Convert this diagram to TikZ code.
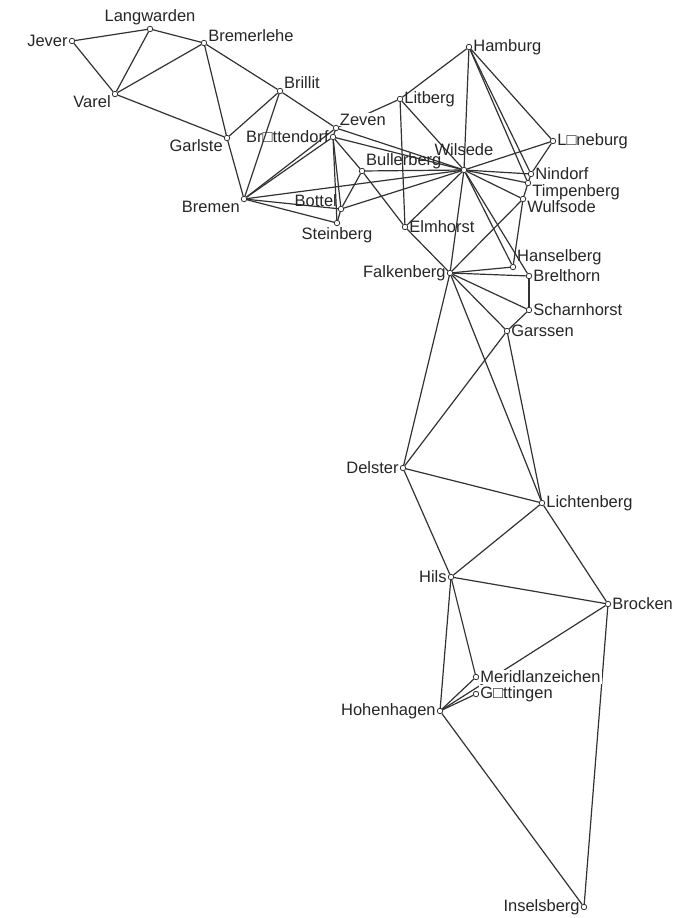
\documentclass[tikz,border=0pt]{standalone}
\usepackage{fontspec}
\setmainfont{Liberation Sans}
\usetikzlibrary{backgrounds}
\definecolor{netLine}{RGB}{50,50,50}
\tikzset{
  station/.style={circle, draw=netLine, fill=white, line width=0.8pt,
                  inner sep=0pt, minimum size=5.5pt},
  lbl/.style={font=\fontsize{16.5}{17}\selectfont, text=black!85, inner sep=1pt, label distance=0pt},
  lblmask/.style={lbl, fill=white},
  lblhigh/.style={lbl, label distance=10pt},
  link/.style={draw=netLine, line width=1.2pt},
}

\begin{document}
\begin{tikzpicture}[x=1pt, y=-1pt]
  \useasboundingbox (0,0) rectangle (679,918);
  % stations: name / x / y / label angle / text / label style
  \foreach \n/\x/\y/\a/\t/\s in {
      Jever/72/41/180/Jever/lbl,
      Langwarden/150/29/90/Langwarden/lbl,
      Bremerlehe/204/43/10/Bremerlehe/lbl,
      Varel/115/94/195/Varel/lbl,
      Brillit/280/91/25/Brillit/lbl,
      Garlste/227/138/195/Garlste/lbl,
      Bremen/244/199/195/Bremen/lbl,
      Zeven/336/128/30/Zeven/lblmask,
      Bruettendorf/333/137/180/Br□ttendorf/lbl,
      Bottel/341/209/160/Bottel/lbl,
      Steinberg/337/223/270/Steinberg/lbl,
      Bullerberg/362/171/20/Bullerberg/lbl,
      Litberg/400/99/0/Litberg/lbl,
      Hamburg/469/47/0/Hamburg/lbl,
      Wilsede/464/170/90/Wilsede/lblhigh,
      Lueneburg/553/141/0/L□neburg/lbl,
      Nindorf/531/174/0/Nindorf/lbl,
      Timpenberg/528/183/-10/Timpenberg/lbl,
      Wulfsode/523/199/-12/Wulfsode/lbl,
      Elmhorst/405/227/0/Elmhorst/lbl,
      Hanselberg/513/267/20/Hanselberg/lbl,
      Brelthorn/529/276/0/Brelthorn/lbl,
      Falkenberg/450/273/180/Falkenberg/lbl,
      Scharnhorst/529/310/0/Scharnhorst/lbl,
      Garssen/507/331/0/Garssen/lbl,
      Delster/403/468/180/Delster/lbl,
      Lichtenberg/542/503/0/Lichtenberg/lbl,
      Hils/451/577/180/Hils/lbl,
      Brocken/608/604/0/Brocken/lbl,
      Meridian/476/677/0/Meridlanzeichen/lblmask,
      Goettingen/476/694/0/G□ttingen/lblmask,
      Hohenhagen/440/711/180/Hohenhagen/lbl,
      Inselsberg/584/907/180/Inselsberg/lbl}
    \node[station, label={[\s]\a:\t}] (\n) at (\x,\y) {};

  % sight lines of the triangulation
  \begin{scope}[on background layer]
    \foreach \p/\q in {
        Jever/Langwarden, Jever/Varel, Langwarden/Varel, Langwarden/Bremerlehe,
        Varel/Bremerlehe, Varel/Garlste, Bremerlehe/Garlste, Bremerlehe/Brillit,
        Garlste/Brillit, Garlste/Bremen, Brillit/Bremen, Brillit/Zeven,
        Bremen/Zeven, Bremen/Bruettendorf, Bremen/Bottel, Bremen/Steinberg,
        Bremen/Wilsede, Zeven/Bruettendorf, Zeven/Litberg, Zeven/Wilsede,
        Bruettendorf/Wilsede, Bruettendorf/Bullerberg, Bruettendorf/Bottel,
        Bruettendorf/Steinberg, Bottel/Steinberg, Bullerberg/Bottel,
        Bullerberg/Wilsede, Bullerberg/Elmhorst, Bottel/Wilsede,
        Litberg/Hamburg, Litberg/Wilsede, Litberg/Elmhorst,
        Hamburg/Wilsede, Hamburg/Lueneburg, Hamburg/Nindorf, Hamburg/Timpenberg,
        Lueneburg/Wilsede, Lueneburg/Nindorf, Nindorf/Timpenberg, Timpenberg/Wulfsode,
        Wilsede/Nindorf, Wilsede/Timpenberg, Wilsede/Wulfsode, Wilsede/Elmhorst,
        Wilsede/Falkenberg, Wilsede/Hanselberg, Wilsede/Brelthorn,
        Elmhorst/Falkenberg, Wulfsode/Falkenberg, Wulfsode/Hanselberg,
        Falkenberg/Hanselberg, Falkenberg/Brelthorn, Brelthorn/Scharnhorst,
        Falkenberg/Scharnhorst, Scharnhorst/Garssen, Falkenberg/Garssen,
        Falkenberg/Delster, Falkenberg/Lichtenberg, Garssen/Delster,
        Garssen/Lichtenberg, Delster/Lichtenberg, Delster/Hils,
        Lichtenberg/Hils, Lichtenberg/Brocken, Hils/Brocken, Hils/Hohenhagen,
        Hils/Meridian, Brocken/Hohenhagen, Brocken/Inselsberg,
        Hohenhagen/Inselsberg, Hohenhagen/Meridian, Hohenhagen/Goettingen}
      \draw[link] (\p) -- (\q);
  \end{scope}
\end{tikzpicture}
\end{document}
